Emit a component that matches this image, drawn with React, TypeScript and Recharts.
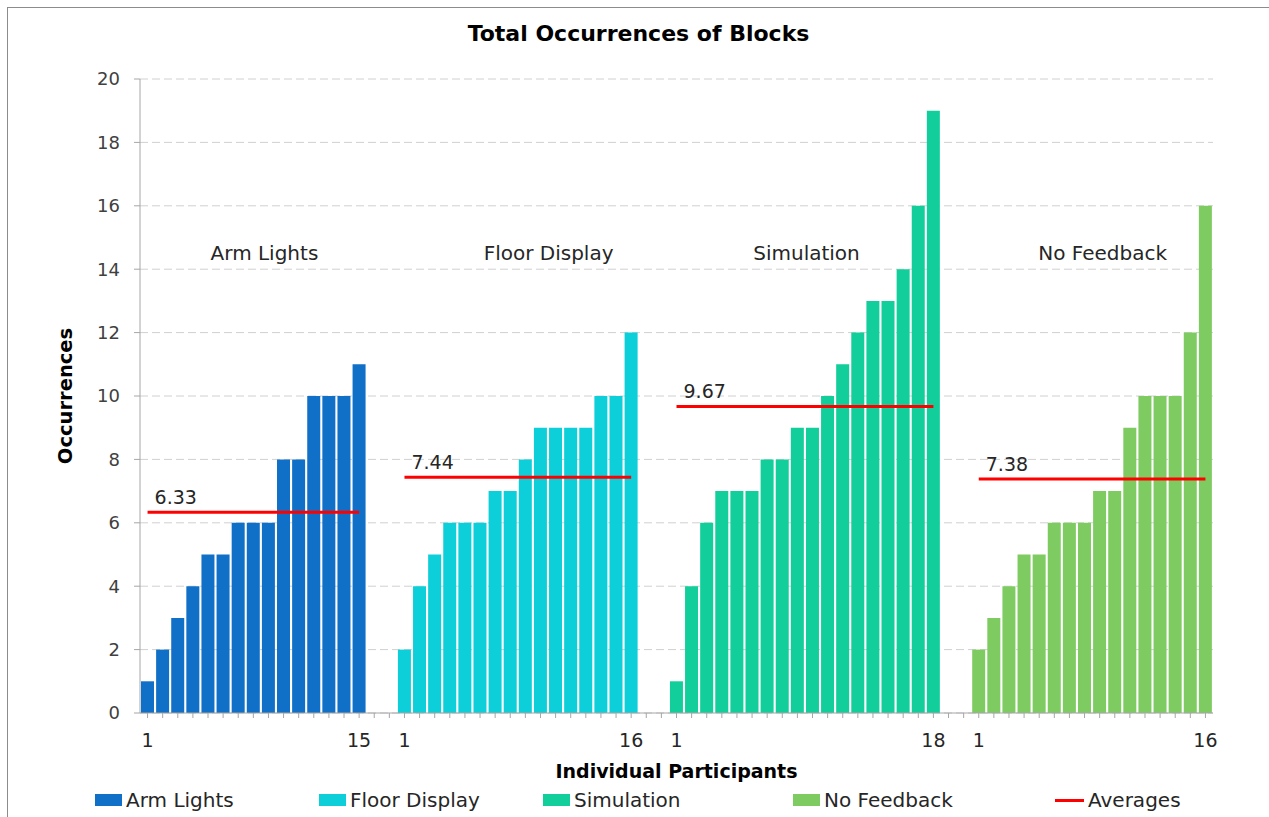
import { ComposedChart, Bar, Cell, Line, LabelList, XAxis, YAxis, CartesianGrid, ReferenceDot, Label } from 'recharts'

// occurrences per participant, sorted within each condition
const groupNames = ['Arm Lights', 'Floor Display', 'Simulation', 'No Feedback']
const armLights = [1, 2, 3, 4, 5, 5, 6, 6, 6, 8, 8, 10, 10, 10, 11]
const floorDisplay = [2, 4, 5, 6, 6, 6, 7, 7, 8, 9, 9, 9, 9, 10, 10, 12]
const simulation = [1, 4, 6, 7, 7, 7, 8, 8, 9, 9, 10, 11, 12, 13, 13, 14, 16, 19]
const noFeedback = [2, 3, 4, 5, 5, 6, 6, 6, 7, 7, 9, 10, 10, 10, 12, 16]
const averages = [6.33, 7.44, 9.67, 7.38]
const yTicks = [0, 2, 4, 6, 8, 10, 12, 14, 16, 18, 20]

const groups = [armLights, floorDisplay, simulation, noFeedback]
const barColors = ['#106fc6', '#0dcfd9', '#12ce9a', '#7ecb61']
const avgColor = '#ff0000'
const textColor = '#262626'

// empty slots between conditions
const gapSlots = 2

type Row = { key: string; tick: string; value?: number; group?: number; [k: string]: any }

const rows: Row[] = []
groups.forEach((vals, g) => {
  if (g > 0) {
    for (let j = 0; j < gapSlots; j++) rows.push({ key: `gap-${g}-${j}`, tick: '' })
  }
  vals.forEach((v, i) => {
    rows.push({
      key: `${g}-${i + 1}`,
      tick: i === 0 || i === vals.length - 1 ? String(i + 1) : '',
      value: v,
      group: g,
      [`avg${g}`]: averages[g],
    })
  })
})

const tickByKey: Record<string, string> = {}
rows.forEach((r) => (tickByKey[r.key] = r.tick))

const firstIndex = groups.map((_, g) => rows.findIndex((r) => r.key === `${g}-1`))

// where the condition names sit (participant slot + nudge in px)
const groupLabelSlot = [9, 11, 10, 9]
const groupLabelDx = [-4, -7, -6, 3]
const legendLeft = [95, 319, 543, 793, 1055]

const font = '"DejaVu Sans", sans-serif'

function avgLabel(first: number) {
  return (props: any) => {
    if (props.index !== first) return null
    const vb = props.viewBox || {}
    const x = props.x ?? vb.x
    const y = props.y ?? vb.y
    if (x == null || y == null) return null
    return (
      <text x={x + 7} y={y - 8} fill={textColor} fontSize={19} fontFamily={font}>
        {Number(props.value).toFixed(2)}
      </text>
    )
  }
}

function groupLabel(name: string, dx: number) {
  return (props: any) => {
    const vb = props.viewBox || {}
    return (
      <text
        x={vb.x + (vb.width || 0) / 2 + dx}
        y={vb.y + (vb.height || 0) / 2}
        textAnchor="middle"
        dominantBaseline="central"
        fill={textColor}
        fontSize={20}
        fontFamily={font}
      >
        {name}
      </text>
    )
  }
}

export default function App() {
  return (
    <div
      style={{
        position: 'absolute',
        left: 0,
        top: 0,
        width: 1269,
        height: 817,
        overflow: 'hidden',
        background: '#fff',
        fontFamily: font,
      }}
    >
      <div
        style={{
          position: 'absolute',
          left: 7,
          top: 7,
          width: 1320,
          height: 900,
          border: '1px solid #8c8c8c',
        }}
      />
      <div
        style={{
          position: 'absolute',
          left: 0,
          width: 1277,
          top: 21,
          textAlign: 'center',
          fontWeight: 'bold',
          fontSize: 22,
          color: '#000',
        }}
      >
        Total Occurrences of Blocks
      </div>

      <div style={{ position: 'absolute', left: 0, top: 0 }}>
        <ComposedChart
          width={1269}
          height={817}
          data={rows}
          margin={{ top: 79, right: 56, left: 0, bottom: 0 }}
          barCategoryGap={1}
        >
          <CartesianGrid vertical={false} stroke="#d0d0d0" strokeDasharray="8 4" />
          <XAxis
            dataKey="key"
            interval={0}
            height={104}
            tickSize={5}
            tickMargin={16}
            tickFormatter={(k: string) => tickByKey[k] ?? ''}
            tick={{ fill: textColor, fontSize: 19 }}
            axisLine={{ stroke: '#a6a6a6' }}
            tickLine={{ stroke: '#a6a6a6' }}
          >
            <Label
              value="Individual Participants"
              position="insideTop"
              offset={52}
              fill="#000"
              fontSize={19}
              fontWeight="bold"
            />
          </XAxis>
          <YAxis
            width={140}
            domain={[0, 20]}
            ticks={yTicks}
            tickSize={6}
            tickMargin={14}
            tick={{ fill: '#404040', fontSize: 18 }}
            axisLine={{ stroke: '#a6a6a6' }}
            tickLine={{ stroke: '#a6a6a6' }}
          >
            <Label
              value="Occurrences"
              angle={-90}
              position="center"
              dx={-5}
              fill="#000"
              fontSize={19.5}
              fontWeight="bold"
            />
          </YAxis>

          <Bar dataKey="value" isAnimationActive={false}>
            {rows.map((r) => (
              <Cell key={r.key} fill={r.group != null ? barColors[r.group] : 'none'} />
            ))}
          </Bar>

          {groups.map((_, g) => (
            <Line
              key={`avg${g}`}
              dataKey={`avg${g}`}
              stroke={avgColor}
              strokeWidth={3}
              dot={false}
              activeDot={false}
              connectNulls={false}
              isAnimationActive={false}
            >
              <LabelList dataKey={`avg${g}`} content={avgLabel(firstIndex[g])} />
            </Line>
          ))}

          {groupNames.map((name, g) => (
            <ReferenceDot
              key={name}
              x={`${g}-${groupLabelSlot[g]}`}
              y={14.5}
              r={0}
              fill="none"
              stroke="none"
              ifOverflow="visible"
              label={groupLabel(name, groupLabelDx[g])}
            />
          ))}
        </ComposedChart>
      </div>

      {/* legend */}
      {groupNames.map((name, g) => (
        <div
          key={name}
          style={{ position: 'absolute', left: legendLeft[g], top: 788, display: 'flex', alignItems: 'center', height: 24 }}
        >
          <span style={{ display: 'inline-block', width: 27, height: 12, background: barColors[g], marginRight: 4 }} />
          <span style={{ fontSize: 20, color: textColor }}>{name}</span>
        </div>
      ))}
      <div
        style={{ position: 'absolute', left: legendLeft[4], top: 788, display: 'flex', alignItems: 'center', height: 24 }}
      >
        <span style={{ display: 'inline-block', width: 29, height: 3, background: avgColor, marginRight: 4 }} />
        <span style={{ fontSize: 20, color: textColor }}>Averages</span>
      </div>
    </div>
  )
}
